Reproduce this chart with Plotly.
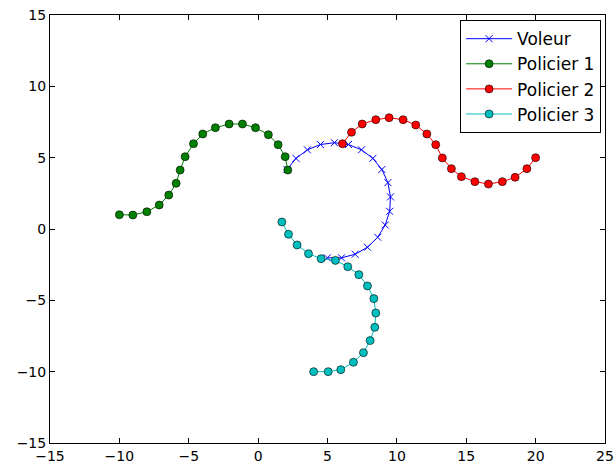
import plotly.graph_objects as go

voleur_x = [2.08, 2.73, 3.55, 4.49, 5.50, 6.51, 7.45, 8.27, 8.92, 9.35, 9.54, 9.48, 9.16, 8.62, 7.88, 6.99, 6.01, 4.99]
voleur_y = [4.17, 4.95, 5.55, 5.92, 6.05, 5.92, 5.55, 4.95, 4.17, 3.25, 2.25, 1.24, 0.28, -0.58, -1.28, -1.77, -2.02, -2.02]

p1_x = [-10.0, -9.03, -8.02, -7.13, -6.44, -5.91, -5.62, -5.26, -4.66, -3.99, -3.08, -2.09, -1.13, -0.19, 0.74, 1.44, 1.95, 2.14]
p1_y = [1.0, 0.98, 1.21, 1.68, 2.38, 3.2, 4.13, 5.07, 5.98, 6.66, 7.1, 7.36, 7.36, 7.1, 6.61, 5.91, 5.07, 4.13]

p2_x = [20.0, 19.37, 18.52, 17.6, 16.6, 15.62, 14.65, 13.93, 13.28, 12.8, 12.16, 11.36, 10.45, 9.44, 8.48, 7.5, 6.73, 6.08]
p2_y = [5.0, 4.23, 3.62, 3.32, 3.15, 3.32, 3.67, 4.23, 4.98, 5.91, 6.66, 7.29, 7.66, 7.8, 7.66, 7.36, 6.78, 5.98]

p3_x = [4.0, 5.05, 5.96, 6.87, 7.59, 8.07, 8.41, 8.48, 8.34, 7.88, 7.26, 6.46, 5.57, 4.54, 3.63, 2.81, 2.19, 1.71]
p3_y = [-10.0, -10.0, -9.86, -9.34, -8.67, -7.82, -6.89, -5.89, -4.88, -3.99, -3.2, -2.64, -2.2, -2.08, -1.73, -1.12, -0.37, 0.49]

x_ticks = [-15, -10, -5, 0, 5, 10, 15, 20, 25]
y_ticks = [-15, -10, -5, 0, 5, 10, 15]
x_tick_text = ["\u221215", "\u221210", "\u22125", "0", "5", "10", "15", "20", "25"]
y_tick_text = ["\u221215", "\u221210", "\u22125", "0", "5", "10", "15"]

fig = go.Figure()
fig.add_trace(go.Scatter(x=voleur_x, y=voleur_y, mode="lines+markers", name="Voleur",
                         line=dict(color="#0000ff", width=1),
                         marker=dict(symbol="x-thin-open", size=7, line=dict(color="#0000ff", width=1), color="#0000ff")))
fig.add_trace(go.Scatter(x=p1_x, y=p1_y, mode="lines+markers", name="Policier 1",
                         line=dict(color="#008000", width=1),
                         marker=dict(symbol="circle", size=8, color="#008000", line=dict(color="#000000", width=0.6))))
fig.add_trace(go.Scatter(x=p2_x, y=p2_y, mode="lines+markers", name="Policier 2",
                         line=dict(color="#ff0000", width=1),
                         marker=dict(symbol="circle", size=8, color="#ff0000", line=dict(color="#000000", width=0.6))))
fig.add_trace(go.Scatter(x=p3_x, y=p3_y, mode="lines+markers", name="Policier 3",
                         line=dict(color="#00bfbf", width=1),
                         marker=dict(symbol="circle", size=8, color="#00bfbf", line=dict(color="#000000", width=0.6))))

axis_common = dict(showgrid=False, zeroline=False, showline=True, linecolor="#000000", linewidth=1,
                   mirror="allticks", ticks="inside", ticklen=5, tickwidth=1, tickcolor="#000000",
                   automargin=False,
                   tickfont=dict(family="DejaVu Sans", size=14, color="#000000"))
fig.update_xaxes(range=[-15, 25], tickvals=x_ticks, ticktext=x_tick_text, ticklabelstandoff=0, **axis_common)
fig.update_yaxes(range=[-15, 15], tickvals=y_ticks, ticktext=y_tick_text, **axis_common)

fig.update_layout(
    width=614, height=471,
    margin=dict(l=50, r=9, t=15, b=28),
    paper_bgcolor="#ffffff", plot_bgcolor="#ffffff",
    font=dict(family="DejaVu Sans", color="#000000"),
    legend=dict(x=0.993, y=0.988, xanchor="right", yanchor="top",
                bordercolor="#000000", borderwidth=1, bgcolor="#ffffff",
                font=dict(family="DejaVu Sans", size=17, color="#000000"),
                tracegroupgap=0, itemwidth=46),
    showlegend=True,
)

fig.write_html("out.html", post_script="document.body.style.margin='0';",
               config={"displayModeBar": False})
